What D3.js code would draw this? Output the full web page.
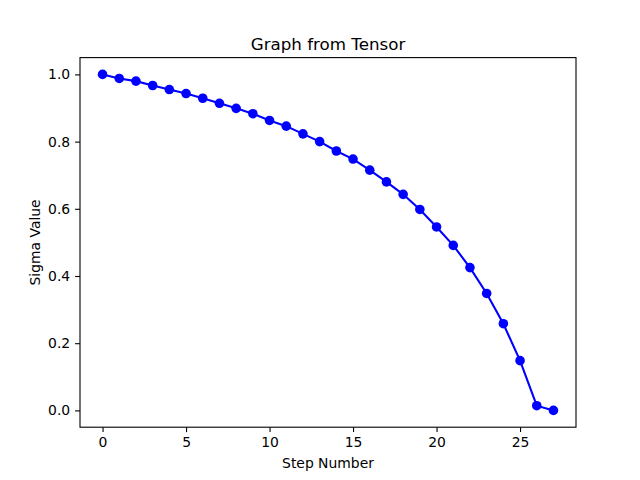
<!DOCTYPE html>
<html lang="en">
<head>
<meta charset="UTF-8">
<script src="https://d3js.org/d3.v7.min.js"></script>
<style>
  body { margin: 0; background: #fff; }
  svg { display: block; font-family: "DejaVu Sans", sans-serif; }
</style>
</head>
<body>
<svg id="chart" width="640" height="480"></svg>
<script>
// data
const steps = d3.range(0, 28);
const sigmas = [1.0, 0.988, 0.980, 0.967, 0.955, 0.943, 0.929, 0.914, 0.899, 0.883,
  0.863, 0.846, 0.823, 0.800, 0.772, 0.748, 0.715, 0.680, 0.643, 0.598,
  0.546, 0.491, 0.425, 0.348, 0.258, 0.148, 0.014, 0.0];
const xTicks = [0, 5, 10, 15, 20, 25];
const yTicks = [0.0, 0.2, 0.4, 0.6, 0.8, 1.0];

const W = 640, H = 480;
const m = { left: 80, right: 64, top: 57.6, bottom: 52.8 };
const svg = d3.select("#chart");

const x = d3.scaleLinear().domain([-1.35, 28.35]).range([m.left, W - m.right]);
const y = d3.scaleLinear().domain([-0.05, 1.05]).range([H - m.bottom, m.top]);

const xAxis = svg.append("g")
  .attr("transform", `translate(0,${H - m.bottom})`)
  .call(d3.axisBottom(x).tickValues(xTicks).tickFormat(d3.format("d")).tickSizeInner(4.9).tickSizeOuter(0).tickPadding(4.9));
const yAxis = svg.append("g")
  .attr("transform", `translate(${m.left},0)`)
  .call(d3.axisLeft(y).tickValues(yTicks).tickFormat(d3.format(".1f")).tickSizeInner(4.9).tickSizeOuter(0).tickPadding(4.9));
[xAxis, yAxis].forEach(a => {
  a.select(".domain").remove();
  a.selectAll("line").attr("stroke", "#000").attr("stroke-width", 1.1);
  a.selectAll("text").attr("font-size", "13.9px").attr("font-family", "DejaVu Sans").attr("fill", "#000");
});

// frame
svg.append("rect")
  .attr("x", m.left).attr("y", m.top)
  .attr("width", W - m.left - m.right).attr("height", H - m.top - m.bottom)
  .attr("fill", "none").attr("stroke", "#000").attr("stroke-width", 1.1);

const line = d3.line().x((d, i) => x(steps[i])).y(d => y(d));
svg.append("path").datum(sigmas)
  .attr("d", line).attr("fill", "none")
  .attr("stroke", "#0000ff").attr("stroke-width", 2.08);

svg.append("g").selectAll("circle").data(sigmas).join("circle")
  .attr("cx", (d, i) => x(steps[i])).attr("cy", d => y(d))
  .attr("r", 4.8).attr("fill", "#0000ff");

svg.append("text")
  .attr("x", (m.left + W - m.right) / 2).attr("y", m.top - 8)
  .attr("text-anchor", "middle").attr("font-size", "16.7px")
  .text("Graph from Tensor");

svg.append("text")
  .attr("x", (m.left + W - m.right) / 2).attr("y", 468)
  .attr("text-anchor", "middle").attr("font-size", "13.9px")
  .text("Step Number");

svg.append("text")
  .attr("transform", `translate(40,${(m.top + H - m.bottom) / 2}) rotate(-90)`)
  .attr("text-anchor", "middle").attr("font-size", "13.9px")
  .text("Sigma Value");
</script>
</body>
</html>
